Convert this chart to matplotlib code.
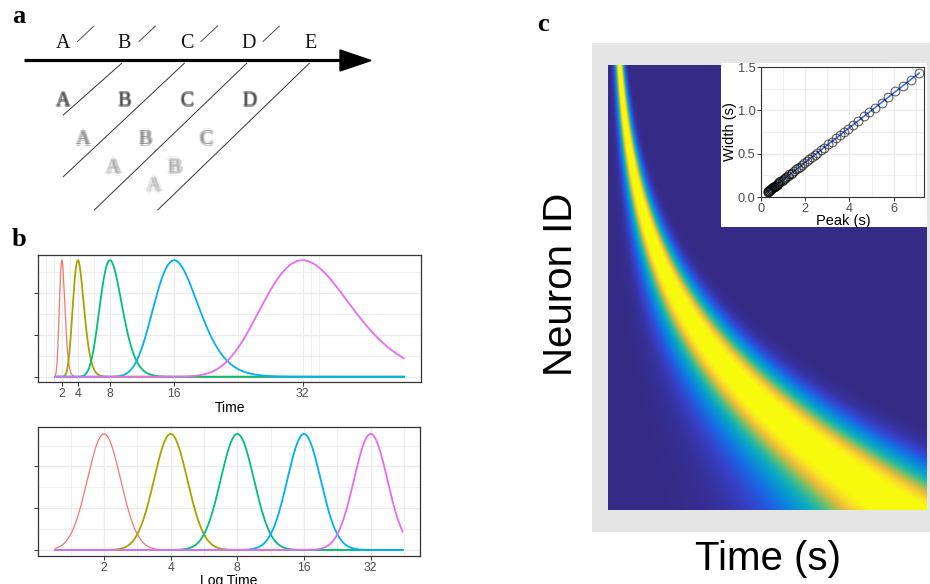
import numpy as np
import matplotlib
matplotlib.use("Agg")
import matplotlib.pyplot as plt
from matplotlib.colors import LinearSegmentedColormap
from matplotlib.patches import Rectangle, Polygon

plt.rcParams['font.family'] = ['Liberation Sans', 'DejaVu Sans']

# ---------------- data ----------------
# panel a: presented sequence and its fading echoes
seq_letters = ["A", "B", "C", "D", "E"]
echo_rows = [["A", "B", "C", "D"], ["A", "B", "C"], ["A", "B"], ["A"]]

# panel b: peak times of five temporal basis functions
curve_peaks = [2, 4, 8, 16, 32]
curve_colors = ["#F8766D", "#A3A500", "#00BF7D", "#00B0F6", "#E76BF3"]
curve_width_log2 = 0.25          # width in log2(time) units
time_span_log2 = [0.27, 5.48]    # plotted time range, log2 units
tick_values = [2, 4, 8, 16, 32]
tick_labels = ["2", "4", "8", "16", "32"]

# panel c inset: neurons' peak times and widths (s)
peak_s = [0.30, 0.32, 0.33, 0.35, 0.37, 0.39, 0.41, 0.44, 0.46, 0.49,
          0.51, 0.54, 0.57, 0.60, 0.64, 0.67, 0.71, 0.75, 0.79, 0.83,
          0.88, 0.93, 0.98, 1.03, 1.09, 1.15, 1.21, 1.28, 1.35, 1.42,
          1.50, 1.59, 1.67, 1.76, 1.86, 1.96, 2.07, 2.19, 2.31, 2.44,
          2.55, 2.70, 2.87, 3.03, 3.19, 3.38, 3.55, 3.74, 3.95, 4.16,
          4.38, 4.64, 4.90, 5.17, 5.45, 5.75, 6.08, 6.41, 6.77, 7.15]
width_s = [0.06, 0.06, 0.07, 0.07, 0.07, 0.08, 0.08, 0.09, 0.09, 0.10,
           0.10, 0.11, 0.11, 0.12, 0.13, 0.13, 0.14, 0.15, 0.16, 0.17,
           0.18, 0.19, 0.20, 0.21, 0.22, 0.23, 0.24, 0.26, 0.27, 0.28,
           0.30, 0.32, 0.33, 0.35, 0.37, 0.39, 0.41, 0.44, 0.46, 0.49,
           0.51, 0.54, 0.57, 0.61, 0.64, 0.68, 0.71, 0.75, 0.79, 0.83,
           0.88, 0.93, 0.98, 1.03, 1.09, 1.15, 1.22, 1.28, 1.35, 1.43]

# panel c heat map: band read at several depths of the neuron list
heat_row_frac = [0.0, 0.14, 0.288, 0.438, 0.589, 0.745, 0.813, 0.888, 1.0]
heat_peak_s = [0.40, 0.59, 0.80, 1.22, 1.88, 3.22, 4.05, 5.05, 5.95]
heat_width_s = [0.05, 0.10, 0.16, 0.25, 0.38, 0.66, 0.86, 1.13, 1.38]
heat_time_range = [0.18, 6.78]

# ---------------- layout helpers ----------------
W, H = 930, 584
fig = plt.figure(figsize=(W / 100, H / 100), dpi=100)
fig.patch.set_facecolor("white")


def px_axes(x0, y0, x1, y1, **kw):
    return fig.add_axes([x0 / W, 1 - y1 / H, (x1 - x0) / W, (y1 - y0) / H], **kw)


def ftext(x, y, s, **kw):
    return fig.text(x / W, 1 - y / H, s, **kw)


SERIF = ['Liberation Serif', 'DejaVu Serif']

# ---------------- panel labels ----------------
for lab, x, y in [("a", 12, 23), ("b", 12, 246), ("c", 537, 31)]:
    ftext(x, y, lab, family=SERIF, fontweight="bold", fontsize=19,
          ha="left", va="baseline")

# ---------------- panel a ----------------
ax_a = px_axes(0, 0, 400, 220)
ax_a.set_xlim(0, 400)
ax_a.set_ylim(220, 0)
ax_a.axis("off")

letter_x = [63, 124.5, 186.5, 248.5, 311]
ax_a.plot([24, 345], [60, 60], color="black", lw=2.3, solid_capstyle="butt")
ax_a.add_patch(Polygon([[340, 50], [371, 60.5], [340, 71]], closed=True,
                       color="black"))
for x, s in zip(letter_x, seq_letters):
    ax_a.text(x, 48.5, s, family=SERIF, fontsize=14.5, ha="center",
              va="baseline", color="#111111")
for x in letter_x[:4]:
    ax_a.plot([x + 14.5, x + 31], [41.5, 26], color="#333333", lw=0.6)

diag = [((121.7, 63.3), (63.3, 115)), ((184.3, 63.3), (63.3, 176.7)),
        ((246.7, 63.3), (94.3, 210)), ((309.3, 63.3), (157.7, 210))]
for (xa, ya), (xb, yb) in diag:
    ax_a.plot([xa, xb], [ya, yb], color="#333333", lw=0.7)

echo_geom = [  # (x positions, y centre, blur radius px, colour, alpha/copy)
    ([63, 124.5, 186.5, 249.5], 101.5, 1.1, "#3a3a3a", 0.17),
    ([83.5, 145.5, 206], 140, 2.0, "#555555", 0.11),
    ([113.5, 174.5], 168.5, 2.5, "#666666", 0.095),
    ([154], 186.5, 3.0, "#777777", 0.085),
]
for letters, (xs, yc, rad, col, al) in zip(echo_rows, echo_geom):
    grid = np.linspace(-rad, rad, 5)
    offs = [(dx, dy) for dx in grid for dy in grid
            if dx * dx + dy * dy <= rad * rad + 1e-9]
    for s, x in zip(letters, xs):
        for dx, dy in offs:
            ax_a.text(x + dx, yc + dy, s, family=SERIF, fontsize=14.5,
                      ha="center", va="center", color=col, alpha=al)

# ---------------- panel b ----------------
GRID = "#EBEBEB"


def gg_style(ax):
    for sp in ax.spines.values():
        sp.set_color("#333333")
        sp.set_linewidth(0.9)
    ax.set_axisbelow(True)
    ax.tick_params(which="major", length=3, width=0.7, color="#333333",
                   labelcolor="#4D4D4D", labelsize=8.8, pad=1.5)
    ax.tick_params(which="minor", length=0)
    ax.grid(which="major", color=GRID, lw=0.9)
    ax.grid(which="minor", color=GRID, lw=0.55)
    ax.set_yticks([0, 0.36, 0.72])
    ax.set_yticks([0.18, 0.54, 0.9], minor=True)
    ax.set_yticklabels([])


t = 2 ** np.linspace(time_span_log2[0], time_span_log2[1], 1500)
curves = [np.exp(-(np.log2(t) - np.log2(p)) ** 2 / (2 * curve_width_log2 ** 2))
          for p in curve_peaks]

ax_b1 = px_axes(38, 255, 421, 382)
gg_style(ax_b1)
for k, (c, col) in enumerate(zip(curves, curve_colors)):
    ax_b1.plot(t, c, color=col, lw=0.9 if k == 0 else 1.3, zorder=2 + k)
ax_b1.set_xlim(-0.97, 46.77)
ax_b1.set_ylim(-0.045, 1.045)
ax_b1.set_xticks(tick_values)
ax_b1.set_xticklabels(tick_labels)
ax_b1.set_xticks([0, 1, 3, 6, 12, 24, 33, 34], minor=True)
ftext(229.5, 411.5, "Time", fontsize=10, ha="center", va="baseline")

ax_b2 = px_axes(38, 427, 420, 556)
gg_style(ax_b2)
for k, (c, col) in enumerate(zip(curves, curve_colors)):
    ax_b2.plot(t, c, color=col, lw=0.9 if k == 0 else 1.3, zorder=2 + k)
ax_b2.set_xscale("log", base=2)
ax_b2.set_xlim(2 ** 0.01, 2 ** 5.74)
ax_b2.set_ylim(-0.052, 1.06)
ax_b2.set_xticks(tick_values)
ax_b2.set_xticklabels(tick_labels)
ax_b2.set_xticks([2 ** v for v in [0.5, 1.5, 2.5, 3.5, 4.5, 5.5]], minor=True)
ax_b2.set_xticklabels([], minor=True)
ftext(229, 584.5, "Log Time", fontsize=10, ha="center", va="baseline")

# ---------------- panel c ----------------
fig.add_artist(Rectangle((592 / W, 1 - 532 / H), (930 - 592) / W, (532 - 43) / H,
                         transform=fig.transFigure, facecolor="#E5E5E5",
                         edgecolor="none", zorder=-5))

parula = LinearSegmentedColormap.from_list("parula_like", [
    (0.00, (0.208, 0.166, 0.529)),
    (0.10, (0.215, 0.255, 0.790)),
    (0.20, (0.110, 0.390, 0.890)),
    (0.30, (0.050, 0.520, 0.870)),
    (0.40, (0.030, 0.620, 0.800)),
    (0.50, (0.090, 0.700, 0.700)),
    (0.60, (0.300, 0.740, 0.520)),
    (0.70, (0.620, 0.750, 0.330)),
    (0.80, (0.930, 0.740, 0.230)),
    (0.90, (0.975, 0.870, 0.160)),
    (1.00, (0.976, 0.983, 0.054)),
])

ax_h = px_axes(608, 65, 927, 510)
tt = np.linspace(heat_time_range[0], heat_time_range[1], 640)
rows = np.linspace(0, 1, 890)
pk_fit = np.polyfit(heat_row_frac, np.log(heat_peak_s), 3)
w_fit = np.polyfit(heat_row_frac, heat_width_s, 3)
row_peak = np.exp(np.polyval(pk_fit, rows))[:, None]
row_width = np.clip(np.polyval(w_fit, rows), 0.04, None)[:, None]
resp = np.exp(-(tt[None, :] - row_peak) ** 2 / (2 * row_width ** 2))
ax_h.imshow(resp, cmap=parula, vmin=0, vmax=0.92, aspect="auto",
            interpolation="antialiased",
            extent=[heat_time_range[0], heat_time_range[1], 1, 0])
ax_h.set_xticks([])
ax_h.set_yticks([])
for sp in ax_h.spines.values():
    sp.set_visible(False)

fig.add_artist(Rectangle((721 / W, 1 - 227 / H), (927 - 721) / W, (227 - 63) / H,
                         transform=fig.transFigure, facecolor="white",
                         edgecolor="none", zorder=2))

ax_in = px_axes(761, 67, 924, 197)
ax_in.set_zorder(3)
for sp in ax_in.spines.values():
    sp.set_color("#333333")
    sp.set_linewidth(0.8)
ax_in.set_axisbelow(True)
ax_in.set_xlim(0, 7.37)
ax_in.set_ylim(0, 1.5)
ax_in.set_xticks([0, 2, 4, 6])
ax_in.set_xticks([1, 3, 5, 7], minor=True)
ax_in.set_yticks([0, 0.5, 1.0, 1.5])
ax_in.set_yticklabels(["0.0", "0.5", "1.0", "1.5"])
ax_in.set_yticks([0.25, 0.75, 1.25], minor=True)
ax_in.tick_params(which="major", length=3, width=0.7, color="#333333",
                  labelcolor="#4D4D4D", labelsize=9.2, pad=1)
ax_in.tick_params(which="minor", length=0)
ax_in.grid(which="major", color=GRID, lw=0.9)
ax_in.grid(which="minor", color=GRID, lw=0.55)
coef = np.polyfit(peak_s, width_s, 1)
xfit = np.array([min(peak_s), max(peak_s)])
ax_in.plot(xfit, np.polyval(coef, xfit), color="#3366FF", lw=1.1, zorder=3)
ax_in.plot(peak_s, width_s, "o", mfc="none", mec=(0, 0, 0, 0.6), ms=6.3,
           mew=0.8, zorder=4, clip_on=False)

ftext(730, 132, "Width (s)", fontsize=10.5, rotation=90, ha="center",
      va="center", zorder=5)
ftext(843, 225, "Peak (s)", fontsize=10.5, ha="center", va="baseline", zorder=5)

ftext(561, 284, "Neuron ID", fontsize=29, rotation=90, ha="center", va="center")
ftext(767.5, 570, "Time (s)", fontsize=29, ha="center", va="baseline")

fig.savefig("out.png", dpi=100)
